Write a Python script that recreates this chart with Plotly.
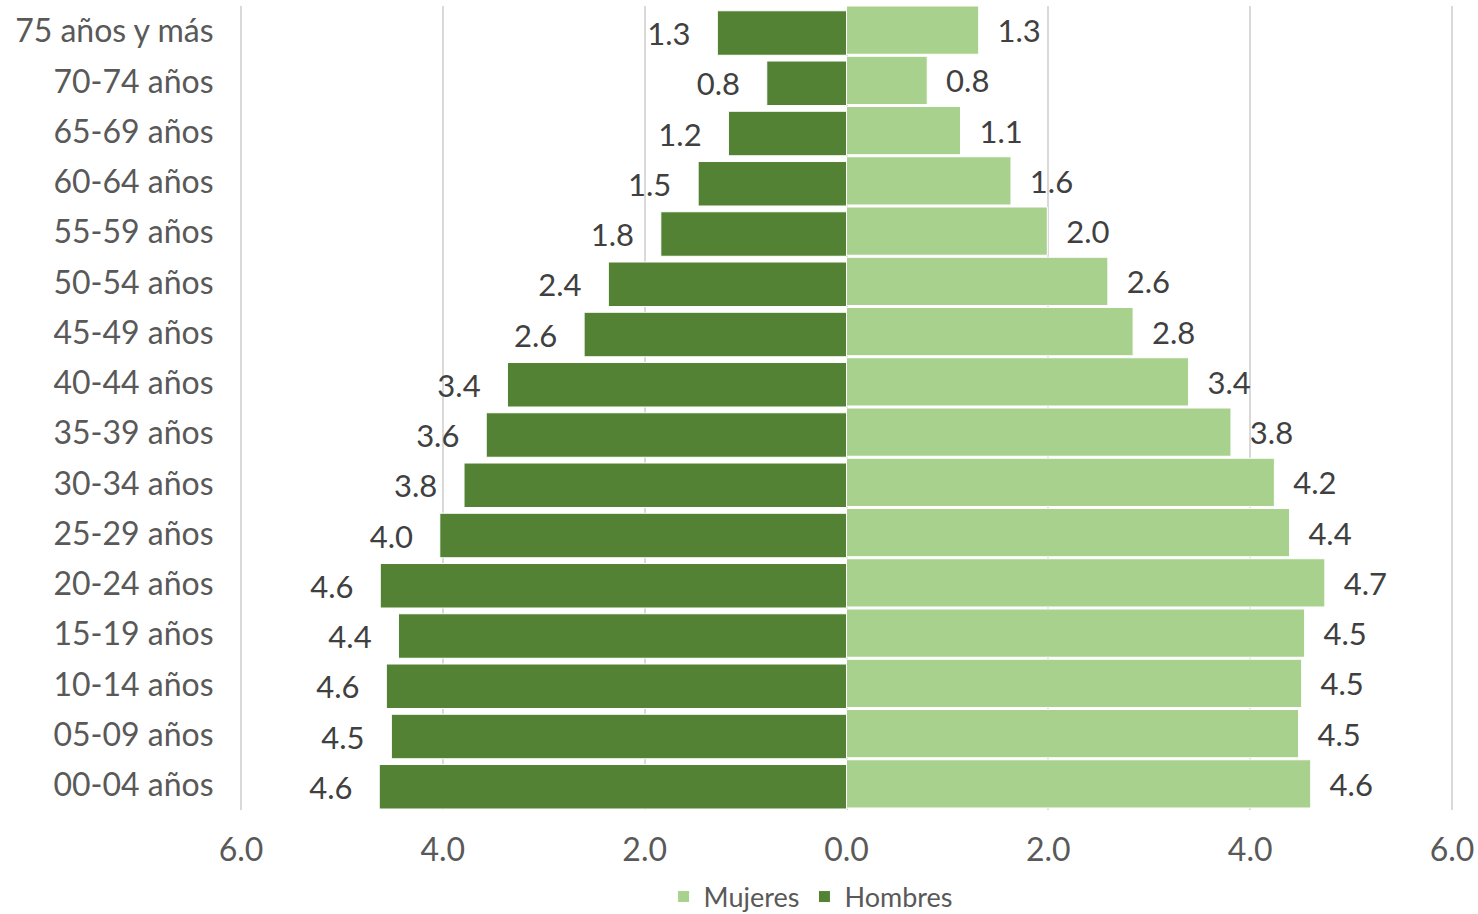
import plotly.graph_objects as go

categories = ["00-04 años", "05-09 años", "10-14 años", "15-19 años", "20-24 años",
              "25-29 años", "30-34 años", "35-39 años", "40-44 años", "45-49 años",
              "50-54 años", "55-59 años", "60-64 años", "65-69 años", "70-74 años",
              "75 años y más"]
hombres = [4.63, 4.51, 4.56, 4.44, 4.62, 4.03, 3.79, 3.57, 3.36, 2.60,
           2.36, 1.84, 1.47, 1.17, 0.79, 1.28]
mujeres = [4.60, 4.48, 4.51, 4.54, 4.74, 4.39, 4.24, 3.81, 3.39, 2.84,
           2.59, 1.99, 1.63, 1.13, 0.80, 1.31]
tick_vals = [-6, -4, -2, 0, 2, 4, 6]
tick_text = ["6.0", "4.0", "2.0", "0.0", "2.0", "4.0", "6.0"]

FONT = "Lato"
NB = "\u00a0"

fig = go.Figure()
fig.add_trace(go.Bar(
    name="Mujeres", y=categories, x=mujeres, orientation="h",
    marker=dict(color="#A9D18E", line=dict(color="white", width=1)),
    width=0.96, offset=-0.46,
    text=[NB * 2 + f"{v:.1f}" for v in mujeres], textposition="outside",
    textangle=0, cliponaxis=False,
    outsidetextfont=dict(family=FONT, size=31, color="#404040"),
))
fig.add_trace(go.Bar(
    name="Hombres", y=categories, x=[-v for v in hombres], orientation="h",
    marker=dict(color="#548235", line=dict(color="white", width=1)),
    width=0.885, offset=-0.48,
    text=[f"{v:.1f}" + NB * 3 for v in hombres], textposition="outside",
    textangle=0, cliponaxis=False,
    outsidetextfont=dict(family=FONT, size=31, color="#404040"),
))

fig.update_layout(
    width=1478, height=914,
    margin=dict(l=240, r=25, t=6, b=104, autoexpand=False),
    barmode="overlay",
    plot_bgcolor="white", paper_bgcolor="white",
    font=dict(family=FONT, size=32, color="#595959"),
    showlegend=True,
    legend=dict(orientation="h", x=0.449, xref="container", xanchor="left",
                y=(914 - 897) / 914, yref="container", yanchor="middle",
                font=dict(family=FONT, size=27, color="#595959"),
                itemwidth=30, traceorder="normal"),
)
fig.update_xaxes(
    range=[-6.01, 6.01], tickvals=tick_vals, ticktext=tick_text,
    showgrid=True, gridcolor="#D9D9D9", gridwidth=2,
    zeroline=False, showline=False, automargin=False,
    ticks="outside", ticklen=12, tickcolor="rgba(0,0,0,0)",
    tickfont=dict(family=FONT, size=32, color="#595959"),
)
fig.update_yaxes(
    type="category", categoryorder="array", categoryarray=categories,
    showgrid=False, zeroline=False, showline=False, automargin=False,
    ticks="outside", ticklen=19, tickcolor="rgba(0,0,0,0)",
    tickfont=dict(family=FONT, size=32, color="#595959"),
)

fig.write_html("out.html", config={"displayModeBar": False},
               post_script="document.body.style.margin='0';")
